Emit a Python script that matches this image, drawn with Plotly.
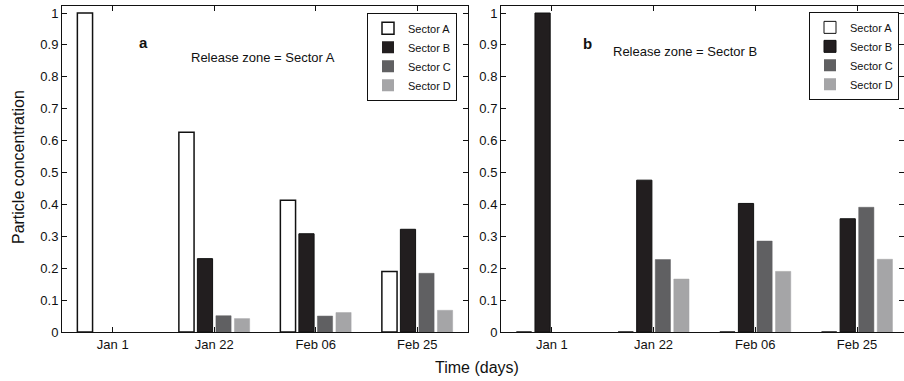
import plotly.graph_objects as go

# ---- data ----
dates = ["Jan 1", "Jan 22", "Feb 06", "Feb 25"]
sectors = ["Sector A", "Sector B", "Sector C", "Sector D"]

# Panel a: release zone = Sector A
a_sector_a = [1.0, 0.626, 0.413, 0.190]
a_sector_b = [0.0, 0.230, 0.308, 0.322]
a_sector_c = [0.0, 0.051, 0.050, 0.184]
a_sector_d = [0.0, 0.042, 0.061, 0.068]

# Panel b: release zone = Sector B
b_sector_a = [0.0, 0.0, 0.0, 0.0]
b_sector_b = [1.0, 0.476, 0.403, 0.355]
b_sector_c = [0.0, 0.227, 0.285, 0.391]
b_sector_d = [0.0, 0.166, 0.190, 0.228]

y_ticks = [0, 0.1, 0.2, 0.3, 0.4, 0.5, 0.6, 0.7, 0.8, 0.9, 1]
y_ticktext = ["0", "0.1", "0.2", "0.3", "0.4", "0.5", "0.6", "0.7", "0.8", "0.9", "1"]

# ---- styles ----
FONT = "Liberation Sans, Arial, Helvetica, sans-serif"
fills = ["#ffffff", "#221e1f", "#606062", "#a5a5a7"]
edges = ["#111111", "#111111", "#606062", "#a5a5a7"]
edge_w = [1.5, 1.0, 0.5, 0.5]

fig = go.Figure()

panel_a = [a_sector_a, a_sector_b, a_sector_c, a_sector_d]
panel_b = [b_sector_a, b_sector_b, b_sector_c, b_sector_d]


def add_panel(values, xaxis, yaxis, legend):
    for i, (name, vals) in enumerate(zip(sectors, values)):
        # zero-height bars: the white bar keeps a thin black outline that merges with
        # the axis line (and keeps its legend swatch outlined); filled bars drop it
        widths = [edge_w[i] if v > 0 else (1.0 if i == 0 else 0) for v in vals]
        fig.add_trace(go.Bar(
            x=dates, y=vals, name=name, xaxis=xaxis, yaxis=yaxis, legend=legend,
            marker=dict(color=fills[i], line=dict(color=edges[i], width=widths)),
            hoverinfo="skip"))


add_panel(panel_a, "x", "y", "legend")
add_panel(panel_b, "x2", "y2", "legend2")

W, H = 904, 381
axis_common = dict(showline=True, linecolor="#111111", linewidth=1, mirror="ticks",
                   ticks="inside", ticklen=5, tickcolor="#111111", showgrid=False,
                   zeroline=False, tickfont=dict(family=FONT, size=13, color="#111111"))

xa = dict(axis_common, type="category", categoryorder="array", categoryarray=dates,
          range=[-0.5, 3.5], domain=[62 / W, 468 / W], anchor="y")
xb = dict(axis_common, type="category", categoryorder="array", categoryarray=dates,
          range=[-0.5, 3.462], domain=[501 / W, 1.0], anchor="y2")
ya = dict(axis_common, range=[0, 1.022], tickvals=y_ticks, ticktext=y_ticktext,
          domain=[0, 1], anchor="x")
yb = dict(axis_common, range=[0, 1.022], tickvals=y_ticks, ticktext=y_ticktext,
          domain=[0, 1], anchor="x2")

legend_style = dict(font=dict(family=FONT, size=11, color="#111111"),
                    bgcolor="#ffffff", bordercolor="#111111", borderwidth=1,
                    xanchor="right", yanchor="top", tracegroupgap=0, itemwidth=30,
                    traceorder="normal")

fig.update_layout(
    width=W, height=H,
    margin=dict(l=0, r=0, t=6, b=49),
    paper_bgcolor="#ffffff", plot_bgcolor="#ffffff",
    font=dict(family=FONT, color="#111111"),
    barmode="group", bargap=0.27, bargroupgap=0.18,
    xaxis=xa, xaxis2=xb, yaxis=ya, yaxis2=yb,
    legend=dict(legend_style, x=457 / W, y=0.979),
    legend2=dict(legend_style, x=899 / W, y=0.982),
    showlegend=True,
    annotations=[
        dict(text="<b>a</b>", xref="x domain", yref="y domain", x=0.185, y=0.92,
             showarrow=False, font=dict(family=FONT, size=15)),
        dict(text="Release zone = Sector A", xref="x domain", yref="y domain",
             x=0.496, y=0.872, showarrow=False, font=dict(family=FONT, size=13)),
        dict(text="<b>b</b>", xref="x2 domain", yref="y2 domain", x=0.199, y=0.917,
             showarrow=False, font=dict(family=FONT, size=15)),
        dict(text="Release zone = Sector B", xref="x2 domain", yref="y2 domain",
             x=0.456, y=0.889, showarrow=False, font=dict(family=FONT, size=13)),
        dict(text="Particle concentration", xref="paper", yref="paper",
             x=18 / W, y=0.506, textangle=-90, showarrow=False,
             xanchor="center", yanchor="middle", font=dict(family=FONT, size=16)),
        dict(text="Time (days)", xref="paper", yref="paper",
             x=477 / W, y=-0.11, showarrow=False,
             xanchor="center", yanchor="middle", font=dict(family=FONT, size=16)),
    ],
)

fig.write_html("out.html")
